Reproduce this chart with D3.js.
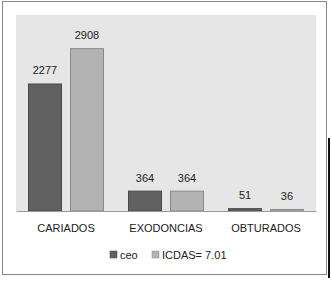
<!DOCTYPE html>
<html>
<head>
<meta charset="utf-8">
<script src="https://cdn.jsdelivr.net/npm/d3@7"></script>
<style>
  body { margin: 0; background: #fff; }
  svg text { font-family: "Liberation Sans", Arial, sans-serif; fill: #222; }
</style>
</head>
<body>
<svg id="chart" width="331" height="284"></svg>
<script>
// chart data
const categories = ['CARIADOS', 'EXODONCIAS', 'OBTURADOS'];
const seriesNames = ['ceo', 'ICDAS= 7.01'];
const ceoValues = [2277, 364, 51];
const icdasValues = [2908, 364, 36];
const seriesColors = ['#616161', '#b3b3b3'];
const seriesStroke = ['#4a4a4a', '#8a8a8a'];

const svg = d3.select('#chart');

// outer frame
svg.append('rect')
  .attr('x', 2.5).attr('y', 1.5).attr('width', 324).attr('height', 273)
  .attr('fill', '#fff').attr('stroke', '#888').attr('stroke-width', 1);
svg.append('line')
  .attr('x1', 329).attr('x2', 329).attr('y1', 138).attr('y2', 278)
  .attr('stroke', '#111').attr('stroke-width', 2);

const plot = { left: 16, right: 316, top: 15, bottom: 211 };

// plot background
svg.append('rect')
  .attr('x', plot.left).attr('y', plot.top)
  .attr('width', plot.right - plot.left).attr('height', plot.bottom - plot.top)
  .attr('fill', '#e6e6e6');

const x0 = d3.scaleBand().domain(categories).range([plot.left, plot.right]).paddingInner(0).paddingOuter(0);
const x1 = d3.scaleBand().domain(seriesNames).range([12, x0.bandwidth() - 12]).paddingInner(0.19);
const y = d3.scaleLinear().domain([0, 3500]).range([plot.bottom, plot.top]);

const rows = categories.map((c, i) => ({
  cat: c,
  vals: [ceoValues[i], icdasValues[i]]
}));

const g = svg.append('g');
const groups = g.selectAll('.grp').data(rows).enter().append('g')
  .attr('transform', d => `translate(${x0(d.cat)},0)`);

groups.selectAll('rect').data(d => d.vals.map((v, j) => ({ v, j })))
  .enter().append('rect')
  .attr('x', d => x1(seriesNames[d.j]) + 0.5)
  .attr('y', d => y(d.v) + 0.5)
  .attr('width', x1.bandwidth() - 1)
  .attr('height', d => Math.max(0, plot.bottom - y(d.v) - 0.5))
  .attr('fill', d => seriesColors[d.j])
  .attr('stroke', d => seriesStroke[d.j]).attr('stroke-width', 1);

groups.selectAll('text.val').data(d => d.vals.map((v, j) => ({ v, j })))
  .enter().append('text').attr('class', 'val')
  .attr('x', d => x1(seriesNames[d.j]) + x1.bandwidth() / 2)
  .attr('y', d => y(d.v) - 9)
  .attr('text-anchor', 'middle')
  .style('font-size', '11px')
  .text(d => d.v);

// baseline axis
const xAxis = d3.axisBottom(x0).tickSize(0).tickPadding(13);
const ax = svg.append('g').attr('transform', `translate(0,${plot.bottom})`).call(xAxis);
ax.select('.domain').attr('stroke', '#9a9a9a');
ax.selectAll('text').style('font-size', '11px').attr('fill', '#222')
  .style('font-family', '"Liberation Sans", Arial, sans-serif');

// legend
const legend = svg.append('g').attr('transform', 'translate(110,251)');
const legX = [0, 42];
seriesNames.forEach((s, i) => {
  legend.append('rect')
    .attr('x', legX[i]).attr('y', 0).attr('width', 7).attr('height', 7)
    .attr('fill', seriesColors[i]).attr('stroke', seriesStroke[i]).attr('stroke-width', 0.5);
  legend.append('text')
    .attr('x', legX[i] + 10).attr('y', 7.5)
    .style('font-size', '11px')
    .text(s);
});
</script>
</body>
</html>
